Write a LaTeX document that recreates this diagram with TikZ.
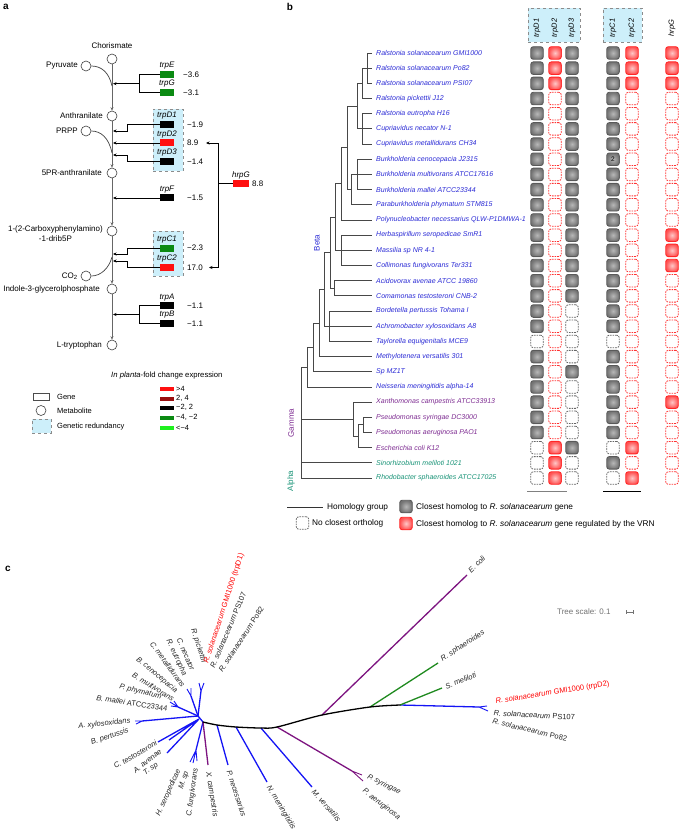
\documentclass[tikz,border=0pt]{standalone}
\usepackage{fontspec}
\setmainfont{Liberation Sans}
\usetikzlibrary{arrows.meta}
\definecolor{gGreen}{HTML}{0B8A12}
\definecolor{gRed}{HTML}{FF1010}
\definecolor{gDark}{HTML}{9A0E0E}
\definecolor{gLight}{HTML}{1FF01F}
\definecolor{redund}{HTML}{CDEFFA}
\definecolor{betaC}{HTML}{2B2BD6}
\definecolor{gammaC}{HTML}{7E2C92}
\definecolor{alphaC}{HTML}{1A9478}
\definecolor{tBlue}{HTML}{1414F5}
\definecolor{tPurple}{HTML}{7D1480}
\definecolor{tGreen}{HTML}{1F8A1F}
\newcommand\myfs[1]{\fontsize{#1}{#1}\selectfont}
\newcommand\mycell[4]{\node[cell#1] (#4) at (#2,#3) {};}
\begin{document}
\begin{tikzpicture}[x=1pt,y=-1pt,
 met/.style={circle,draw=black!75,line width=0.6pt,minimum size=10pt,inner sep=0pt},
 gbox/.style={rectangle,minimum width=14pt,minimum height=7pt,inner sep=0pt},
 glab/.style={font=\myfs{8}\itshape,inner sep=0pt},
 val/.style={font=\myfs{8},anchor=west,inner sep=0pt},
 mlab/.style={font=\myfs{8},anchor=east,inner sep=0pt},
 axis/.style={draw=black!60,line width=0.8pt,-{Stealth[length=3.5pt,width=3pt]}},
 conn/.style={draw=black,line width=0.7pt},
 arr/.style={conn,-{Stealth[length=3.5pt,width=3pt]}},
 redbox/.style={draw=black!45,dashed,fill=redund,line width=0.5pt,inner sep=0pt},
 leg/.style={font=\myfs{7.5},anchor=west,inner sep=0pt},
 cellbase/.style={rectangle,rounded corners=2.5pt,minimum width=12.5pt,minimum height=12.5pt,inner sep=0pt,line width=0.9pt},
 cellG/.style={cellbase,draw=black!65,inner color=black!28,outer color=black!55},
 cellR/.style={cellbase,draw=red!85,inner color=red!22,outer color=red!68},
 cellN/.style={cellbase,draw=black!60,line width=0.8pt,dash pattern=on 1.6pt off 1pt},
 cellM/.style={cellbase,draw=red!80,line width=0.8pt,dash pattern=on 1.6pt off 1pt},
 splab/.style={font=\myfs{7}\itshape,anchor=west,inner sep=0pt},
 treeb/.style={draw=black!72,line width=0.9pt},
 tb/.style={line width=1.3pt},
 tbt/.style={line width=0.9pt},
 clab/.style={font=\myfs{7.5},inner sep=0.5pt,text=black!85},
 panel/.style={font=\myfs{10}\bfseries,inner sep=0pt}
]
\useasboundingbox (0,0) rectangle (679,834);
\fill[white] (0,0) rectangle (679,834);

% ---------- panel letters
\node[panel] (la) at (6,7) {a};
\node[panel] (lb) at (290,7) {b};
\node[panel] (lc) at (8,569) {c};

% ================= PANEL A
\node[redbox,minimum width=30pt,minimum height=62pt] (redD) at (168,140) {};
\node[redbox,minimum width=30pt,minimum height=45pt] (redC) at (168,253.5) {};

\node[met] (chor) at (112,59) {};
\node[met] (pyr) at (86,66) {};
\node[met] (anth) at (112,116) {};
\node[met] (prpp) at (86,131) {};
\node[met] (fpr) at (112,173) {};
\node[met] (cdrp) at (112,231) {};
\node[met] (co2) at (86,276) {};
\node[met] (igp) at (112,289) {};
\node[met] (ltrp) at (112,345) {};

\node[font=\myfs{8},inner sep=0pt] (tchor) at (112,46) {Chorismate};
\node[mlab] (tpyr) at (78,66) {Pyruvate};
\node[mlab] (tanth) at (103,116) {Anthranilate};
\node[mlab] (tprpp) at (78,131) {PRPP};
\node[mlab] (tfpr) at (102,173) {5PR-anthranilate};
\node[mlab,align=center,font=\fontsize{8}{9.4}\selectfont] (tcdrp) at (103,233.5) {1-(2-Carboxyphenylamino)\\-1-drib5P};
\node[mlab] (tco2) at (78,276) {CO\textsubscript{2}};
\node[mlab] (tigp) at (100,289) {Indole-3-glycerolphosphate};
\node[mlab] (tltrp) at (102,345) {L-tryptophan};

\draw[axis] (chor) -- (anth);
\draw[axis] (anth) -- (fpr);
\draw[axis] (fpr) -- (cdrp);
\draw[axis] (cdrp) -- (igp);
\draw[axis] (igp) -- (ltrp);

\coordinate (jpyr) at (112,86);
\coordinate (jprpp) at (112,153);
\coordinate (jco2) at (112,257);
\draw[conn,black!75] (pyr.east) .. controls (101,66) and (109,72) .. (jpyr);
\draw[conn,black!75] (prpp.east) .. controls (101,131) and (109,138) .. (jprpp);
\draw[conn,black!75] (co2.east) .. controls (101,276) and (109,268) .. (jco2);

% genes
\node[gbox,fill=gGreen] (gE) at (167,74.7) {};
\node[gbox,fill=gGreen] (gG) at (167,92.8) {};
\node[gbox,fill=black] (gD1) at (167,124.7) {};
\node[gbox,fill=gRed] (gD2) at (167,143) {};
\node[gbox,fill=black] (gD3) at (167,161.5) {};
\node[gbox,fill=black] (gF) at (167,198) {};
\node[gbox,fill=gGreen] (gC1) at (167,248) {};
\node[gbox,fill=gRed] (gC2) at (167,267.5) {};
\node[gbox,fill=black] (gA) at (167,305.5) {};
\node[gbox,fill=black] (gB) at (167,323.5) {};
\node[gbox,fill=gRed,minimum width=16pt] (gH) at (241,183.8) {};

\node[glab] (lE) at (167,65.5) {trpE};
\node[glab] (lG) at (167,84) {trpG};
\node[glab] (lD1) at (167,116) {trpD1};
\node[glab] (lD2) at (167,134.5) {trpD2};
\node[glab] (lD3) at (167,153) {trpD3};
\node[glab] (lF) at (167,189.5) {trpF};
\node[glab] (lC1) at (167,239.5) {trpC1};
\node[glab] (lC2) at (167,259) {trpC2};
\node[glab] (lA) at (167,297.5) {trpA};
\node[glab] (lB) at (167,315) {trpB};
\node[glab] (lH) at (241,175) {hrpG};

\node[val] (vE) at (183,74.7) {−3.6};
\node[val] (vG) at (183,92.8) {−3.1};
\node[val] (vD1) at (187,124.7) {−1.9};
\node[val] (vD2) at (187,143) {8.9};
\node[val] (vD3) at (187,161.5) {−1.4};
\node[val] (vF) at (187,198) {−1.5};
\node[val] (vC1) at (187,248) {−2.3};
\node[val] (vC2) at (187,267.5) {17.0};
\node[val] (vA) at (187,305.5) {−1.1};
\node[val] (vB) at (187,323.5) {−1.1};
\node[val] (vH) at (252,183.8) {8.8};

% connectors
\coordinate (bE) at (139,74.7); \coordinate (bG) at (139,92.8);
\coordinate (bEG) at (139,83.7); \coordinate (jEG) at (113,83.7);
\draw[conn] (gE.west) -- (bE) -- (bG) -- (gG.west);
\draw[arr] (bEG) -- (jEG);
\coordinate (kD1a) at (127,124.7); \coordinate (kD1b) at (127,131); \coordinate (jD1) at (113,131);
\draw[arr] (gD1.west) -- (kD1a) -- (kD1b) -- (jD1);
\coordinate (jD2) at (113,143);
\draw[arr] (gD2.west) -- (jD2);
\coordinate (kD3a) at (127,161.5); \coordinate (kD3b) at (127,155); \coordinate (jD3) at (113,155);
\draw[arr] (gD3.west) -- (kD3a) -- (kD3b) -- (jD3);
\coordinate (jF) at (113,198);
\draw[arr] (gF.west) -- (jF);
\coordinate (kC1a) at (127,248); \coordinate (kC1b) at (127,254); \coordinate (jC1) at (113,254);
\draw[arr] (gC1.west) -- (kC1a) -- (kC1b) -- (jC1);
\coordinate (kC2a) at (127,267.5); \coordinate (kC2b) at (127,261); \coordinate (jC2) at (113,261);
\draw[arr] (gC2.west) -- (kC2a) -- (kC2b) -- (jC2);
\coordinate (bA) at (139,305.5); \coordinate (bB) at (139,323.5);
\coordinate (bAB) at (139,314.5); \coordinate (jAB) at (113,314.5);
\draw[conn] (gA.west) -- (bA) -- (bB) -- (gB.west);
\draw[arr] (bAB) -- (jAB);
\coordinate (hA) at (218,183.8); \coordinate (hT) at (218,143); \coordinate (hB) at (218,267.5);
\coordinate (hTe) at (206,143); \coordinate (hBe) at (209,267.5);
\draw[conn] (gH.west) -- (hA);
\draw[arr] (hA) -- (hT) -- (hTe);
\draw[arr] (hA) -- (hB) -- (hBe);

% legend a
\node[font=\myfs{7.7},anchor=west,inner sep=0pt] (legT) at (111,376) {\textit{In planta}-fold change expression};
\node[gbox,minimum height=4pt,fill=gRed] (k1) at (167,389) {};
\node[gbox,minimum height=4pt,fill=gDark] (k2) at (167,398.7) {};
\node[gbox,minimum height=4pt,fill=black] (k3) at (167,408.3) {};
\node[gbox,minimum height=4pt,fill=gGreen] (k4) at (167,418.3) {};
\node[gbox,minimum height=4pt,fill=gLight] (k5) at (167,428.3) {};
\node[leg] (k1t) at (176,388.5) {>4};
\node[leg] (k2t) at (176,398.2) {2, 4};
\node[leg] (k3t) at (176,407.8) {−2, 2};
\node[leg] (k4t) at (176,417.8) {−4, −2};
\node[leg] (k5t) at (176,427.8) {<−4};
\node[rectangle,draw=black!70,line width=0.6pt,minimum width=16pt,minimum height=7pt,inner sep=0pt] (lgGene) at (41,396.5) {};
\node[leg] (lgGenet) at (57,396.5) {Gene};
\node[met] (lgMet) at (41,410.5) {};
\node[leg] (lgMett) at (57,411) {Metabolite};
\node[redbox,minimum width=19pt,minimum height=14pt] (lgRed) at (41.5,426) {};
\node[leg] (lgRedt) at (57,427) {Genetic redundancy};

% ================= PANEL B
\node[redbox,minimum width=52pt,minimum height=34pt] (hdD) at (554,25) {};
\node[redbox,minimum width=39pt,minimum height=34pt] (hdC) at (622.5,25) {};
\foreach \nm/\xx/\txt in {hD1/537/trpD1,hD2/555/trpD2,hD3/572/trpD3,hC1/613/trpC1,hC2/632/trpC2,hG/672/hrpG}{
  \node[font=\myfs{7.5}\itshape,rotate=90,inner sep=0pt] (\nm) at (\xx,28) {\txt};
}

\foreach \i/\pa/\pb/\pc/\pd/\pe/\pf in {
 0/G/R/G/G/R/R, 1/G/R/G/G/R/R, 2/G/R/G/G/R/R, 3/G/M/G/G/M/M, 4/G/M/G/G/M/M,
 5/G/M/G/G/M/M, 6/G/M/G/G/M/M, 7/G/M/G/G/M/M, 8/G/M/G/G/M/M, 9/G/M/G/G/M/M,
 10/G/M/G/G/M/M, 11/G/M/G/G/M/M, 12/G/M/G/G/M/R, 13/G/M/G/G/M/R, 14/G/M/G/G/M/R,
 15/G/M/G/G/M/M, 16/G/M/G/G/M/M, 17/G/M/N/G/M/M, 18/G/M/N/G/M/M, 19/N/M/N/N/M/M,
 20/G/M/N/G/M/M, 21/G/M/G/G/M/M, 22/G/M/N/G/M/M, 23/G/M/N/G/M/R, 24/G/M/N/G/M/M,
 25/G/M/N/G/M/M, 26/N/R/G/N/R/M, 27/N/R/N/G/M/M, 28/N/R/N/N/R/M}{
  \pgfmathsetmacro\yy{53+15.18*\i}
  \expandafter\mycell\expandafter{\pa}{537}{\yy}{cA\i}
  \expandafter\mycell\expandafter{\pb}{555}{\yy}{cB\i}
  \expandafter\mycell\expandafter{\pc}{572}{\yy}{cC\i}
  \expandafter\mycell\expandafter{\pd}{613}{\yy}{cD\i}
  \expandafter\mycell\expandafter{\pe}{632}{\yy}{cE\i}
  \expandafter\mycell\expandafter{\pf}{672}{\yy}{cF\i}
}
\node[font=\myfs{6.5},inner sep=0pt] (two) at (613,159.5) {2};
\draw[draw=black!50,line width=0.9pt] (527,491) coordinate (uD1) -- (567,491) coordinate (uD2);
\draw[draw=black,line width=0.9pt] (603,491) coordinate (uC1) -- (641,491) coordinate (uC2);

\foreach \i/\txt/\col in {
 0/Ralstonia solanacearum GMI1000/betaC, 1/Ralstonia solanacearum Po82/betaC,
 2/Ralstonia solanacearum PSI07/betaC, 3/Ralstonia pickettii J12/betaC,
 4/Ralstonia eutropha H16/betaC, 5/Cupriavidus necator N-1/betaC,
 6/Cupriavidus metallidurans CH34/betaC, 7/Burkholderia cenocepacia J2315/betaC,
 8/Burkholderia multivorans ATCC17616/betaC, 9/Burkholderia mallei ATCC23344/betaC,
 10/Paraburkholderia phymatum STM815/betaC, 11/Polynucleobacter necessarius QLW-P1DMWA-1/betaC,
 12/Herbaspirillum seropedicae SmR1/betaC, 13/Massilia sp NR 4-1/betaC,
 14/Collimonas fungivorans Ter331/betaC, 15/Acidovorax avenae ATCC 19860/betaC,
 16/Comamonas testosteroni CNB-2/betaC, 17/Bordetella pertussis Tohama I/betaC,
 18/Achromobacter xylosoxidans A8/betaC, 19/Taylorella equigenitalis MCE9/betaC,
 20/Methylotenera versatilis 301/betaC, 21/Sp MZ1T/betaC,
 22/Neisseria meningitidis alpha-14/betaC, 23/Xanthomonas campestris ATCC33913/gammaC,
 24/Pseudomonas syringae DC3000/gammaC, 25/Pseudomonas aeruginosa PAO1/gammaC,
 26/Escherichia coli K12/gammaC, 27/Sinorhizobium meliloti 1021/alphaC,
 28/Rhodobacter sphaeroides ATCC17025/alphaC}{
  \node[splab,text=\col] (sp\i) at (376,{53+15.18*\i}) {\txt};
}

% tree b
\draw[treeb] (372,53) -| (367,83.36) -- (372,83.36);
\draw[treeb] (367,68.18) -- (372,68.18);
\draw[treeb] (367,68.18) -| (362,98.54) -- (372,98.54);
\draw[treeb] (372,113.72) -| (362,144.08) -- (372,144.08);
\draw[treeb] (362,128.9) -- (372,128.9);
\draw[treeb] (362,83.36) -| (357,128.9) -- (362,128.9);
\draw[treeb] (372,159.26) -| (357,189.62) -- (372,189.62);
\draw[treeb] (357,174.44) -- (372,174.44);
\draw[treeb] (357,174.44) -| (351,204.8) -- (372,204.8);
\draw[treeb] (357,106.13) -| (347,189.62) -- (351,189.62);
\draw[treeb] (347,147.88) -| (341,219.98) -- (372,219.98);
\draw[treeb] (372,235.16) -| (341,265.52) -- (372,265.52);
\draw[treeb] (341,250.34) -- (372,250.34);
\draw[treeb] (341,183.94) -| (335,250.34) -- (341,250.34);
\draw[treeb] (372,280.7) -| (334,295.88) -- (372,295.88);
\draw[treeb] (335,217.14) -| (330,288.29) -- (334,288.29);
\draw[treeb] (372,311.06) -| (329,341.42) -- (372,341.42);
\draw[treeb] (329,326.24) -- (372,326.24);
\draw[treeb] (330,252.72) -| (324,326.24) -- (329,326.24);
\draw[treeb] (324,289.48) -| (319,356.6) -- (372,356.6);
\draw[treeb] (319,323.04) -| (313,371.78) -- (372,371.78);
\draw[treeb] (313,347.41) -| (307,386.96) -- (372,386.96);
\draw[treeb] (372,417.32) -| (363,432.5) -- (372,432.5);
\draw[treeb] (363,424.91) -| (358,447.68) -- (372,447.68);
\draw[treeb] (372,402.14) -| (353,436.3) -- (358,436.3);
\draw[treeb] (307,367.19) -| (301,478.04) -- (372,478.04);
\draw[treeb] (301,419.22) -- (353,419.22);
\draw[treeb] (301,462.86) -- (372,462.86);

\node[font=\myfs{8},text=betaC,rotate=90,inner sep=0pt] (beta) at (317,243) {Beta};
\node[font=\myfs{8},text=gammaC,rotate=90,inner sep=0pt] (gamma) at (291,423) {Gamma};
\node[font=\myfs{8},text=alphaC,rotate=90,inner sep=0pt] (alpha) at (291,481) {Alpha};

% legend b
\draw[draw=black!80,line width=0.9pt] (287,507) coordinate (hl1) -- (323,507) coordinate (hl2);
\node[leg,font=\myfs{8.3}] (hlt) at (327,507) {Homology group};
\node[cellG] (lgG) at (406,506.5) {};
\node[leg,font=\myfs{8.3}] (lgGt) at (416,507) {Closest homolog to \textit{R. solanacearum} gene};
\node[cellN] (lgN) at (302.5,523) {};
\node[leg,font=\myfs{8.3}] (lgNt) at (312,523) {No closest ortholog};
\node[cellR] (lgR) at (406,523.5) {};
\node[leg,font=\myfs{8.3}] (lgRt) at (416,524) {Closest homolog to \textit{R. solanacearum} gene regulated by the VRN};

% ================= PANEL C
\coordinate (cH) at (198,716);
\coordinate (cA) at (203,722);
\coordinate (cB) at (217,725);
\coordinate (cC) at (236,727);
\coordinate (cD) at (261,728);
\coordinate (cE) at (277,727);
\coordinate (cF) at (322,715);
\coordinate (cG) at (370,707);
\coordinate (cI) at (400,705);

% blue
\draw[tb,tBlue] (cA) -- (cH);
\coordinate (rR) at (201,691);
\draw[tb,tBlue] (cH) -- (rR);
\draw[tbt,tBlue] (rR) -- (199,683) (rR) -- (204,683);
\coordinate (rCu) at (191,696);
\draw[tb,tBlue] (cH) -- (rCu);
\draw[tbt,tBlue] (rCu) -- (187,689) (rCu) -- (191,688);
\coordinate (rBu) at (178,707);
\draw[tb,tBlue] (cH) -- (rBu);
\draw[tbt,tBlue] (rBu) -- (170,702) (rBu) -- (171,706) (rBu) -- (174,701);
\coordinate (rAx) at (142,721);
\draw[tb,tBlue] (cH) -- (rAx);
\draw[tbt,tBlue] (rAx) -- (135,721) (rAx) -- (136,724);
\coordinate (rCt) at (199,719);
\draw[tb,tBlue] (rCt) -- (158,742) (rCt) -- (169,740) (rCt) -- (167,753);
\coordinate (rHm) at (196,750);
\draw[tb,tBlue] (cA) -- (rHm);
\draw[tbt,tBlue] (rHm) -- (190,762) (rHm) -- (193,763) (rHm) -- (197,761);
\draw[tb,tBlue] (cB) -- (228,765);
\draw[tb,tBlue] (cC) -- (267,782);
\draw[tb,tBlue] (cD) -- (312,787);
\coordinate (rT2) at (479,707);
\draw[tb,tBlue] (cI) -- (rT2);
\draw[tbt,tBlue] (rT2) -- (487,706) (rT2) -- (488,711);
% purple
\draw[tb,tPurple] (cA) -- (208,765);
\coordinate (rPs) at (352,771);
\draw[tb,tPurple] (cE) -- (rPs);
\draw[tbt,tPurple] (rPs) -- (362,775) (rPs) -- (363,781);
\draw[tb,tPurple] (cF) -- (467,575);
% green
\draw[tb,tGreen] (cG) -- (438,663);
\draw[tb,tGreen] (cI) -- (442,688);
% backbone
\draw[tb,black,line cap=round] plot[smooth,tension=0.5] coordinates {(cA) (cB) (cC) (cD) (cE) (cF) (cG) (cI)};

% labels left
\node[clab,anchor=east,rotate=6] (c1) at (131,721) {\textit{A. xylosoxidans}};
\node[clab,anchor=east,rotate=19] (c2) at (129,730) {\textit{B. pertussis}};
\node[clab,anchor=east,rotate=30] (c3) at (157,742) {\textit{C. testosteroni}};
\node[clab,anchor=east,rotate=39] (c4) at (161,750) {\textit{A. avenae}};
\node[clab,anchor=east,rotate=35] (c5) at (158,764) {\textit{T. sp}};
\node[clab,anchor=east,rotate=66] (c6) at (179,769) {\textit{H. seropedicae}};
\node[clab,anchor=east,rotate=72] (c7) at (187,771) {\textit{M. sp}};
\node[clab,anchor=east,rotate=82] (c8) at (196,768) {\textit{C. fungivorans}};
\node[clab,anchor=east,rotate=-9] (c9) at (168,709) {\textit{B. mallei} ATCC23344};
\node[clab,anchor=east,rotate=-15] (c10) at (162,697.5) {\textit{P. phymatum}};
\node[clab,anchor=east,rotate=-32] (c11) at (174,700) {\textit{B. multivorans}};
\node[clab,anchor=east,rotate=-40] (c12) at (177,692) {\textit{B. cenocepacia}};
\node[clab,anchor=east,rotate=-54] (c13) at (184,687) {\textit{C. metallidurans}};
\node[clab,anchor=east,rotate=-65] (c14) at (185,676) {\textit{R. eutropha}};
\node[clab,anchor=east,rotate=-67] (c15) at (193,671) {\textit{C. necator}};
\node[clab,anchor=east,rotate=-72] (c16) at (204,663) {\textit{R. pickettii}};
% labels right
\node[clab,anchor=west,rotate=72,text=red] (c17) at (206,664) {\textit{R. solanacearum} GMI1000 (trpD1)};
\node[clab,anchor=west,rotate=67] (c18) at (212,668) {\textit{R. solanacearum} PS107};
\node[clab,anchor=west,rotate=57] (c19) at (220,672) {\textit{R. solanacearum} Po82};
\node[clab,anchor=west,rotate=-81] (c20) at (208,771) {\textit{X. campestris}};
\node[clab,anchor=west,rotate=-72] (c21) at (229,770) {\textit{P. necessarius}};
\node[clab,anchor=west,rotate=-59] (c22) at (268,786) {\textit{N. meningitidis}};
\node[clab,anchor=west,rotate=-49] (c23) at (313,790) {\textit{M. versatilis}};
\node[clab,anchor=west,rotate=-27] (c24) at (367,776) {\textit{P. syringae}};
\node[clab,anchor=west,rotate=-38] (c25) at (363,790) {\textit{P. aeruginosa}};
\node[clab,anchor=west,rotate=45] (c26) at (469,572) {\textit{E. coli}};
\node[clab,anchor=west,rotate=33] (c27) at (441,660) {\textit{R. sphaeroides}};
\node[clab,anchor=west,rotate=22] (c28) at (445,687) {\textit{S. meliloti}};
\node[clab,anchor=west,rotate=9,text=red] (c29) at (495,702) {\textit{R. solanacearum} GMI1000 (trpD2)};
\node[clab,anchor=west,rotate=-3] (c30) at (493,713) {\textit{R. solanacearum} PS107};
\node[clab,anchor=west,rotate=-13] (c31) at (492,721) {\textit{R. solanacearum} Po82};

% tree scale
\node[font=\myfs{8},text=black!55,anchor=west,inner sep=0pt] (ts) at (557,612) {Tree scale: 0.1};
\draw[black!55,line width=0.6pt] (626,612) coordinate (sb1) -- (633,612) coordinate (sb2);
\draw[black!55,line width=0.6pt] (626,610) -- (626,614) (633,610) -- (633,614);
\end{tikzpicture}
\end{document}
